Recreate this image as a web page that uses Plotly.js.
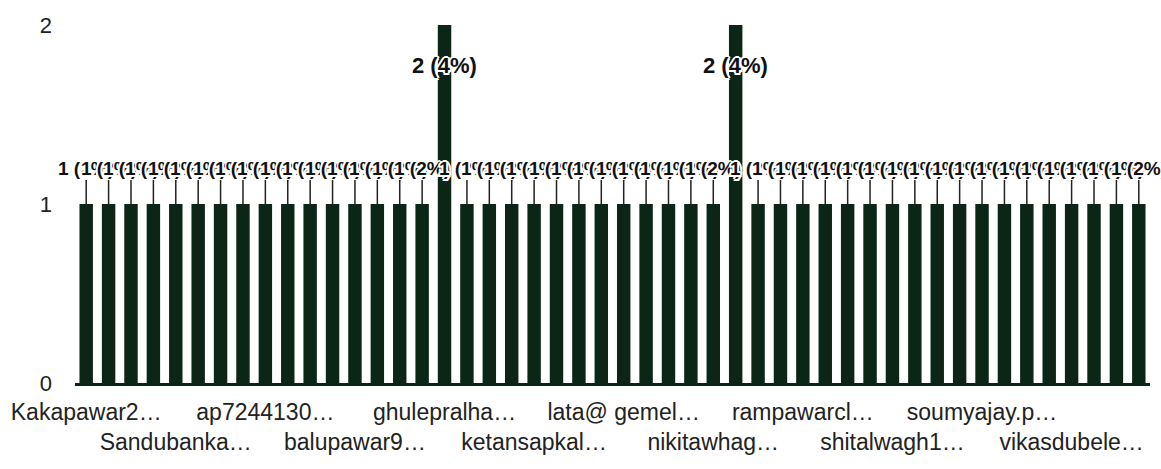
<!DOCTYPE html>
<html><head><meta charset="utf-8">
<script src="https://cdn.plot.ly/plotly-3.0.1.min.js"></script>
<style>html,body{margin:0;padding:0;background:#fff}#chart{width:1161px;height:469px}</style>
</head><body><div id="chart"></div>
<script>
// 48 respondents (bars); two of them have value 2
const values = [1,1,1,1,1,1,1,1,1,1,1,1,1,1,1,1,2,1,1,1,1,1,1,1,
                1,1,1,1,1,2,1,1,1,1,1,1,1,1,1,1,1,1,1,1,1,1,1,1];
// visible category labels (every 4th category)
const tickLabels = ["Kakapawar2…","Sandubanka…","ap7244130…","balupawar9…","ghulepralha…","ketansapkal…",
                    "lata@ gemel…","nikitawhag…","rampawarcl…","shitalwagh1…","soumyajay.p…","vikasdubele…"];
const tickIndex = [0,4,8,12,16,20,24,28,32,36,40,44];
const yTicks = [0,1,2];

const barColor = '#0b2616';
const total = values.reduce((a,b)=>a+b,0);
const maxV = Math.max(...values);
const xs = values.map((v,i)=>i);
const halo = '-2px 0 #fff, 2px 0 #fff, 0 -2px #fff, 0 2px #fff, -1.5px -1.5px #fff, 1.5px 1.5px #fff, -1.5px 1.5px #fff, 1.5px -1.5px #fff';
const fam = 'Liberation Sans, Arial, sans-serif';

const annotations = values.map((v,i)=>{
  const txt = v + ' (' + Math.round(v/total*100) + '%)';
  if (v === maxV) {
    return {x:i, y:v, xref:'x', yref:'y', text:txt, showarrow:false, yshift:-40,
            font:{family:fam, size:22, color:'#111', weight:'bold', shadow:halo}};
  }
  return {x:i, y:v, xref:'x', yref:'y', text:txt, showarrow:true, arrowhead:0, arrowwidth:1.5,
          arrowcolor:'#222', standoff:0, ax:0, ay:-36,
          font:{family:fam, size:19, color:'#111', weight:'bold', shadow:halo}};
});

const ticktext = tickLabels.map((t,k)=> k%2===0 ? t : '<br>'+t);

const data = [{
  type:'bar', x:xs, y:values, marker:{color:barColor}, hoverinfo:'none'
}];

const layout = {
  width:1161, height:469,
  margin:{l:75, r:11, t:25, b:86},
  paper_bgcolor:'#fff', plot_bgcolor:'#fff',
  bargap:0.4, showlegend:false,
  font:{family:fam, color:'#222'},
  xaxis:{range:[-0.5, values.length-0.5], tickvals:tickIndex, ticktext:ticktext, tickangle:0,
         showgrid:false, zeroline:false, showline:true, linecolor:barColor, linewidth:3,
         ticks:'', tickfont:{size:23, color:'#222'}, ticklabelstandoff:6, fixedrange:true},
  yaxis:{range:[0,2], tickvals:yTicks, ticktext:yTicks.map(String), showgrid:false, zeroline:false,
         showline:false, ticks:'', tickfont:{size:22, color:'#222'}, ticklabelstandoff:22, fixedrange:true},
  annotations:annotations
};

Plotly.newPlot('chart', data, layout, {displayModeBar:false, staticPlot:true});
</script>
</body></html>
